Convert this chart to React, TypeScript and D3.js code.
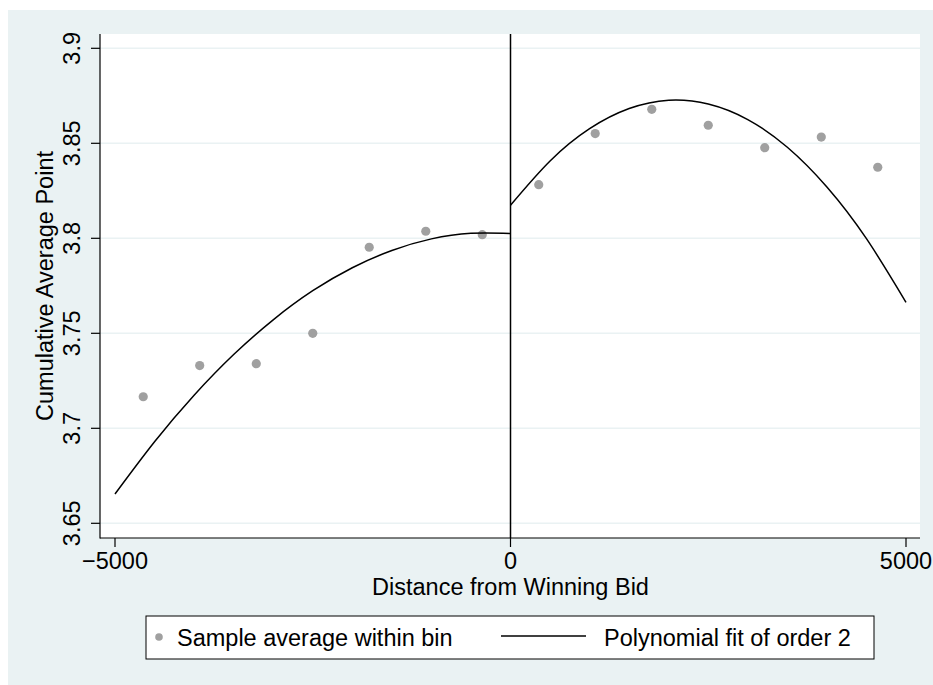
import React, { useEffect, useRef } from "react";
import * as d3 from "d3";

// bin centres (distance from winning bid) and bin means
const binX = [-4643, -3929, -3214, -2500, -1786, -1071, -357, 357, 1071, 1786, 2500, 3214, 3929, 4643];
const binY = [3.7166, 3.733, 3.734, 3.75, 3.7953, 3.8037, 3.8019, 3.8282, 3.8551, 3.8679, 3.8595, 3.8477, 3.8533, 3.8374];

const fitLeftX = [-5000, -4500, -4000, -3500, -3000, -2500, -2000, -1500, -1000, -500, 0];
const fitLeftY = [3.6654, 3.6929, 3.7174, 3.7388, 3.7571, 3.7724, 3.7845, 3.7936, 3.7997, 3.8026, 3.8025];
const fitRightX = [0, 500, 1000, 1500, 2000, 2500, 3000, 3500, 4000, 4500, 5000];
const fitRightY = [3.8174, 3.8407, 3.8577, 3.8683, 3.8727, 3.8707, 3.8625, 3.8479, 3.827, 3.7998, 3.7663];

const yTicks = [3.65, 3.7, 3.75, 3.8, 3.85, 3.9];
const xTicks = [-5000, 0, 5000];

const W = 933;
const H = 685;
const FONT = "'Liberation Sans', Arial, Helvetica, sans-serif";
const FS = "23.5px";

const App = () => {
  const ref = useRef<SVGSVGElement>(null);

  useEffect(() => {
    const svg = d3.select(ref.current);
    svg.selectAll("*").remove();

    const left = 100, right = 920, top = 34, bottom = 538;

    const x = d3.scaleLinear().domain([-5000, 5000]).range([115, 906]);
    const y = d3.scaleLinear().domain([3.65, 3.9]).range([523.3, 48.3]);

    // graph region
    svg.append("rect").attr("x", 8).attr("y", 10).attr("width", W - 8).attr("height", H - 10).attr("fill", "#eaf2f3");
    // plot region
    svg.append("rect").attr("x", left).attr("y", top).attr("width", right - left).attr("height", bottom - top).attr("fill", "#ffffff");

    // grid lines
    svg.selectAll(".grid")
      .data(yTicks)
      .enter().append("line")
      .attr("x1", left).attr("x2", right)
      .attr("y1", d => y(d)).attr("y2", d => y(d))
      .attr("stroke", "#eaf2f3")
      .attr("stroke-width", 1.5);

    // cutoff line
    svg.append("line")
      .attr("x1", x(0)).attr("x2", x(0))
      .attr("y1", top).attr("y2", bottom)
      .attr("stroke", "#000").attr("stroke-width", 1.5);

    // points
    svg.selectAll(".pt")
      .data(binX)
      .enter().append("circle")
      .attr("cx", d => x(d))
      .attr("cy", (_, i) => y(binY[i]))
      .attr("r", 4.6)
      .attr("fill", "#a0a0a0");

    // fit lines
    const line = d3.line<number>()
      .x(d => x(d))
      .curve(d3.curveNatural);
    svg.append("path")
      .attr("d", line.y((_, i) => y(fitLeftY[i]))(fitLeftX))
      .attr("fill", "none").attr("stroke", "#000").attr("stroke-width", 1.5);
    svg.append("path")
      .attr("d", line.y((_, i) => y(fitRightY[i]))(fitRightX))
      .attr("fill", "none").attr("stroke", "#000").attr("stroke-width", 1.5);

    // axes
    svg.append("line").attr("x1", left).attr("x2", left).attr("y1", top).attr("y2", bottom + 0.5)
      .attr("stroke", "#000").attr("stroke-width", 1.2);
    svg.append("line").attr("x1", left).attr("x2", right).attr("y1", bottom).attr("y2", bottom)
      .attr("stroke", "#000").attr("stroke-width", 1.2);

    // y ticks
    svg.selectAll(".ytick")
      .data(yTicks)
      .enter().append("line")
      .attr("x1", left - 9).attr("x2", left)
      .attr("y1", d => y(d)).attr("y2", d => y(d))
      .attr("stroke", "#000").attr("stroke-width", 1.2);
    svg.selectAll(".ylab")
      .data(yTicks)
      .enter().append("text")
      .attr("transform", d => `translate(80,${y(d)}) rotate(-90)`)
      .attr("text-anchor", "middle")
      .style("font-family", FONT)
      .style("font-size", FS)
      .text(d => String(d));

    // x ticks
    svg.selectAll(".xtick")
      .data(xTicks)
      .enter().append("line")
      .attr("x1", d => x(d)).attr("x2", d => x(d))
      .attr("y1", bottom).attr("y2", bottom + 9)
      .attr("stroke", "#000").attr("stroke-width", 1.2);
    svg.selectAll(".xlab")
      .data(xTicks)
      .enter().append("text")
      .attr("x", d => x(d))
      .attr("y", 569)
      .attr("text-anchor", "middle")
      .style("font-family", FONT)
      .style("font-size", FS)
      .text(d => (d < 0 ? "\u2212" + Math.abs(d) : String(d)));

    // axis titles
    svg.append("text")
      .attr("x", (x(-5000) + x(5000)) / 2)
      .attr("y", 595)
      .attr("text-anchor", "middle")
      .style("font-family", FONT)
      .style("font-size", FS)
      .text("Distance from Winning Bid");
    svg.append("text")
      .attr("transform", `translate(53,${(top + bottom) / 2}) rotate(-90)`)
      .attr("text-anchor", "middle")
      .style("font-family", FONT)
      .style("font-size", FS)
      .text("Cumulative Average Point");

    // legend
    svg.append("rect")
      .attr("x", 146).attr("y", 616).attr("width", 728).attr("height", 43)
      .attr("fill", "#fff").attr("stroke", "#000").attr("stroke-width", 1);
    svg.append("circle").attr("cx", 159).attr("cy", 637).attr("r", 3.8).attr("fill", "#a0a0a0");
    svg.append("text")
      .attr("x", 177).attr("y", 645.5)
      .style("font-family", FONT)
      .style("font-size", FS)
      .text("Sample average within bin");
    svg.append("line")
      .attr("x1", 501).attr("x2", 586).attr("y1", 636).attr("y2", 636)
      .attr("stroke", "#000").attr("stroke-width", 1.5);
    svg.append("text")
      .attr("x", 604).attr("y", 645.5)
      .style("font-family", FONT)
      .style("font-size", FS)
      .text("Polynomial fit of order 2");
  }, []);

  return (
    <svg
      ref={ref}
      width={W}
      height={H}
      style={{ position: "absolute", left: 0, top: 0, display: "block", background: "#fff" }}
    />
  );
};

export default App;
